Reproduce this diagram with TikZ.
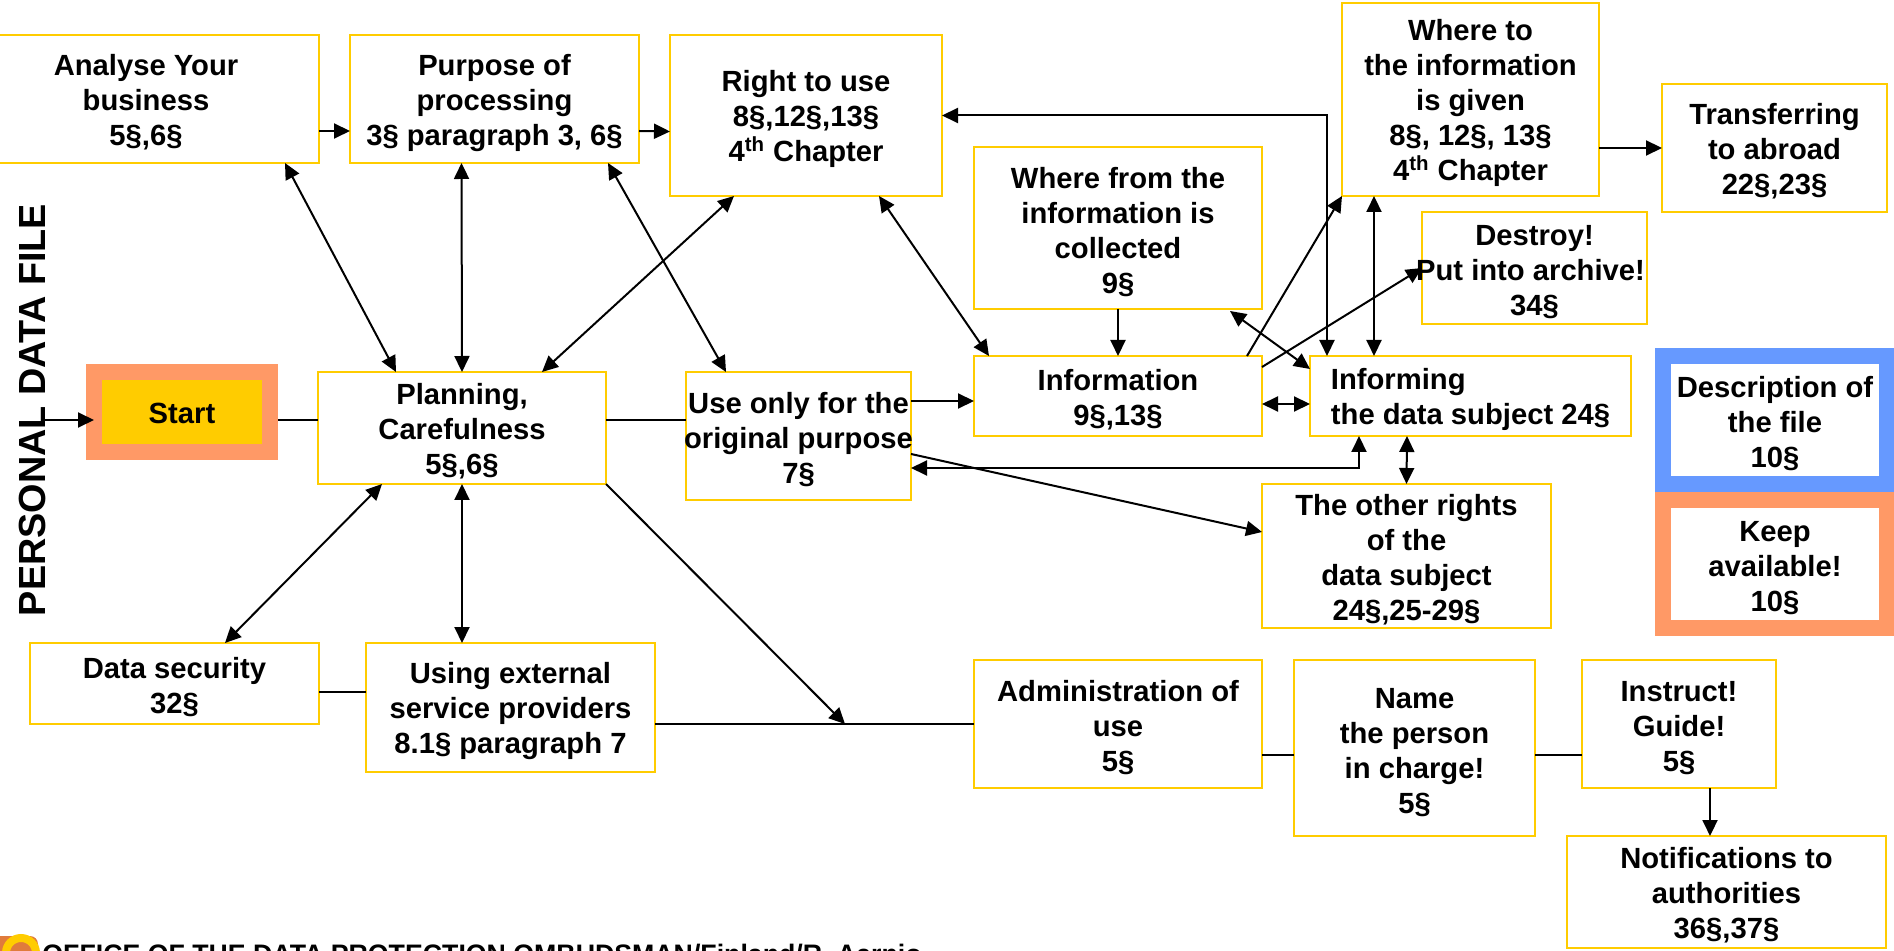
\documentclass[tikz,border=0pt]{standalone}
\usepackage{fontspec}
\setmainfont{Liberation Sans}
\usetikzlibrary{arrows.meta}
\definecolor{boxyellow}{HTML}{FFCC00}
\definecolor{boxorange}{HTML}{FF9966}
\definecolor{boxblue}{HTML}{6699FF}
\definecolor{logoorange}{HTML}{E07B3C}
\newcommand{\tl}{\rule{0pt}{14.2pt}}
\tikzset{
    >={Triangle[length=8pt,width=7.5pt]},
    conn/.style={line width=1pt},
    infobox/.style n args={2}{draw=boxyellow, line width=1pt, fill=white, inner sep=0pt, outer sep=0pt, align=center,
        font=\fontsize{14.6}{17.5}\selectfont\bfseries, minimum width=#1*0.5pt, minimum height=#2*0.5pt},
    framebox/.style n args={3}{infobox={#2}{#3}, draw=#1, line width=8pt, outer sep=4pt}
}
\begin{document}
\begin{tikzpicture}[x=0.5pt, y=-0.5pt]
    \useasboundingbox (0, 0) rectangle (1894, 951);
    % upper row
    \node[infobox={346}{128}] (analyse) at (146, 99) {\tl Analyse Your\\business\\5§,6§};
    \node[infobox={289}{128}] (purpose) at (494.5, 99) {\tl Purpose of\\processing\\3§ paragraph 3, 6§};
    \node[infobox={272}{161}] (right) at (806, 115.5) {\tl Right to use\\8§,12§,13§\\4\textsuperscript{th} Chapter};
    \node[infobox={288}{162}] (wherefrom) at (1118, 228) {\tl Where from the\\information is\\collected\\9§};
    \node[infobox={257}{193}] (whereto) at (1470.5, 99.5) {\tl Where to\\the information\\is given\\8§, 12§, 13§\\4\textsuperscript{th} Chapter};
    \node[infobox={225}{128}] (transfer) at (1774.5, 148) {\tl Transferring\\to abroad\\22§,23§};
    \node[infobox={225}{112}] (destroy) at (1534.5, 268) {\tl Destroy!\\\makebox[0pt]{Put into archive!\hspace{4pt}}\\34§};
    % middle row
    \node[framebox={boxorange}{176}{80}, fill=boxyellow] (start) at (182, 412) {\rule{0pt}{11.5pt}Start};
    \node[infobox={288}{112}] (plan) at (462, 428) {\tl Planning,\\Carefulness\\5§,6§};
    \node[infobox={225}{128}] (useonly) at (798.5, 436) {\tl\makebox[0pt]{Use only for the}\\\makebox[0pt]{original purpose}\\7§};
    \node[infobox={288}{80}] (info) at (1118, 396) {\tl Information\\9§,13§};
    \node[infobox={321}{80}, align=left] (informing) at (1470.5, 396) {\tl Informing\\the data subject 24§};
    \node[infobox={289}{144}] (other) at (1406.5, 556) {\tl The other rights\\of the\\data subject\\24§,25-29§};
    \node[framebox={boxblue}{224}{128}] (descr) at (1775, 420) {\tl Description of\\the file\\10§};
    \node[framebox={boxorange}{224}{128}] (keep) at (1775, 564) {\tl Keep\\available!\\10§};
    % lower row
    \node[infobox={289}{81}] (datasec) at (174.5, 683.5) {\tl Data security\\32§};
    \node[infobox={289}{129}] (using) at (510.5, 707.5) {\tl Using external\\service providers\\8.1§ paragraph 7};
    \node[infobox={288}{128}] (admin) at (1118, 724) {\tl Administration of\\use\\5§};
    \node[infobox={241}{176}] (name) at (1414.5, 748) {\tl Name\\the person\\in charge!\\5§};
    \node[infobox={194}{128}] (instruct) at (1679, 724) {\tl Instruct!\\Guide!\\5§};
    \node[infobox={319}{112}] (notify) at (1726.5, 892) {\tl Notifications to\\authorities\\36§,37§};
    % side and bottom text
    \node[rotate=90, font=\fontsize{18.9}{22}\selectfont\bfseries] (title) at (32, 410) {PERSONAL DATA FILE};
    \fill[logoorange, rounded corners=4pt] (-10, 936) rectangle (38, 980);
    \node[draw=boxyellow, line width=4pt, fill=logoorange, circle, minimum size=15pt, inner sep=0pt] (logo) at (21, 953) {};
    \node[anchor=base west, inner sep=0pt, font=\fontsize{13.36}{15}\selectfont\bfseries] (office) at (42, 963) {OFFICE OF THE DATA PROTECTION OMBUDSMAN/Finland/R. Aarnio};
    % free ends
    \coordinate (titleout) at (45, 420);
    \coordinate (adminjoin) at (845, 724);
    % connectors
    \draw[conn, ->] (titleout) -- ([xshift=4pt, yshift=-4pt]start.west);
    \draw[conn] ([yshift=-4pt]start.east) -- ([yshift=4pt]plan.west);
    \draw[conn, ->] ([yshift=-16pt]analyse.east) -- ([yshift=-16pt]purpose.west);
    \draw[conn, ->] ([yshift=-16pt]purpose.east) -- ([yshift=-8pt]right.west);
    \draw[conn, <->] ([xshift=69.5pt]analyse.south) -- ([xshift=-33pt]plan.north);
    \draw[conn, <->] ([xshift=-16.5pt]purpose.south) -- (plan.north);
    \draw[conn, <->] ([xshift=56.75pt]purpose.south) -- ([xshift=-36.25pt]useonly.north);
    \draw[conn, <->] ([xshift=-36pt]right.south) -- ([xshift=40pt]plan.north);
    \draw[conn, <->] ([xshift=36.5pt]right.south) -- ([xshift=-64.5pt]info.north);
    \draw[conn, ->] (wherefrom.south) -- (info.north);
    \draw[conn] ([yshift=4pt]plan.east) -- ([yshift=8pt]useonly.west);
    \draw[conn, ->] ([yshift=17.5pt]useonly.east) -- ([yshift=-2.5pt]info.west);
    \draw[conn, <->] ([yshift=-4pt]info.east) -- ([yshift=-4pt]informing.west);
    \draw[conn, ->] ([xshift=64.5pt]info.north) -- (whereto.south west);
    \draw[conn, ->] ([yshift=-5.5pt]info.north east) -- (destroy.west);
    \draw[conn, <->] ([xshift=56pt, yshift=-1pt]wherefrom.south) -- ([yshift=-6.5pt]informing.north west);
    \draw[conn, <->] ([xshift=-71.75pt]informing.north) |- (right.east);
    \draw[conn, <->] ([xshift=-48.25pt]whereto.south) -- ([xshift=-48.25pt]informing.north);
    \draw[conn, ->] (whereto.east |- transfer.west) -- (transfer.west);
    \draw[conn, <->] ([xshift=-55.75pt]informing.south) |- ([yshift=-16pt]useonly.east);
    \draw[conn, <->] ([xshift=-31.75pt]informing.south) -- (other.north);
    \draw[conn, ->] ([yshift=-9pt]useonly.east) -- ([yshift=12pt]other.west);
    \draw[conn, <->] ([xshift=-40pt]plan.south) -- ([xshift=25.25pt]datasec.north);
    \draw[conn, <->] (plan.south) -- (plan.south |- using.north);
    \draw[conn] ([yshift=-4.25pt]datasec.east) -- ([yshift=7.75pt]using.west);
    \draw[conn] ([yshift=-8.25pt]using.east) -- (admin.west);
    \draw[conn, ->] (plan.south east) -- (adminjoin);
    \draw[conn] ([yshift=-15.5pt]admin.east) -- ([yshift=-3.5pt]name.west);
    \draw[conn] ([yshift=-3.5pt]name.east) -- ([yshift=-15.5pt]instruct.west);
    \draw[conn, ->] ([xshift=15.5pt]instruct.south) -- ([xshift=-8.25pt]notify.north);
\end{tikzpicture}
\end{document}
